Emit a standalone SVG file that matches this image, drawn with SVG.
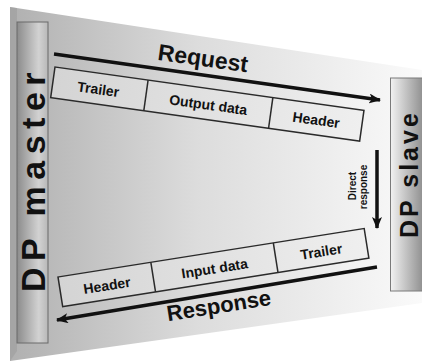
<svg xmlns="http://www.w3.org/2000/svg" width="422" height="361" viewBox="0 0 422 361">
<defs>
<linearGradient id="panelG" x1="0" y1="0" x2="1" y2="0">
<stop offset="0" stop-color="#b0b0b0"/>
<stop offset="0.45" stop-color="#dcdcdc"/>
<stop offset="1" stop-color="#fafafa"/>
</linearGradient>
<linearGradient id="masterG" x1="0" y1="0" x2="1" y2="0">
<stop offset="0" stop-color="#8c8c8c"/>
<stop offset="0.7" stop-color="#d2d2d2"/>
<stop offset="1" stop-color="#b8b8b8"/>
</linearGradient>
<linearGradient id="slaveG" x1="0" y1="0" x2="1" y2="0">
<stop offset="0" stop-color="#f2f2f2"/>
<stop offset="1" stop-color="#8e8e8e"/>
</linearGradient>
<linearGradient id="boxG" x1="0" y1="0" x2="1" y2="0">
<stop offset="0" stop-color="#d4d4d4"/>
<stop offset="1" stop-color="#efefef"/>
</linearGradient>
<marker id="ah" viewBox="0 0 12 10" refX="11" refY="5" markerWidth="12" markerHeight="10" markerUnits="userSpaceOnUse" orient="auto">
<path d="M0,0 L12,5 L0,10 L3,5 Z" fill="#111"/>
</marker>
</defs>
<style>
text{font-family:"Liberation Sans",Arial,sans-serif;font-weight:bold;fill:#111}
.cell{fill:url(#boxG);stroke:#2a2a2a;stroke-width:1.5}
.div{stroke:#2a2a2a;stroke-width:1.5}
.lbl{font-size:14px;text-anchor:middle}
.big{font-size:22px;text-anchor:middle}
.arr{stroke:#111;stroke-width:3.5;fill:none}
</style>
<g id="panel">
<polygon points="10,7 422,70 422,303 10,361" fill="url(#panelG)"/>
<polygon points="10,7 17,8 17,351 10,361" fill="#9a9a9a" opacity="0.5"/>
</g>
<g id="dp-master">
<rect x="17" y="22" width="31" height="321" fill="url(#masterG)" stroke="#6a6a6a" stroke-width="1"/>
<text transform="translate(45,292) rotate(-90)" style="font-size:34px;letter-spacing:6.5px">DP master</text>
</g>
<g id="dp-slave">
<rect x="390.5" y="78" width="33" height="213" fill="url(#slaveG)" stroke="#7a7a7a" stroke-width="1"/>
<text transform="translate(418,238) rotate(-90)" style="font-size:25px;letter-spacing:3px">DP slave</text>
</g>
<g id="request-frame" transform="translate(55,67) rotate(8)">
<rect class="cell" x="0" y="0" width="312" height="31"/>
<line class="div" x1="94" y1="0" x2="94" y2="31"/>
<line class="div" x1="220" y1="0" x2="220" y2="31"/>
<text class="lbl" x="46" y="21">Trailer</text>
<text class="lbl" x="157" y="21">Output data</text>
<text class="lbl" x="266" y="21">Header</text>
</g>
<g id="response-frame" transform="translate(58,277) rotate(-9)">
<rect class="cell" x="0" y="0" width="310" height="30"/>
<line class="div" x1="94" y1="0" x2="94" y2="30"/>
<line class="div" x1="218" y1="0" x2="218" y2="30"/>
<text class="lbl" x="47" y="21">Header</text>
<text class="lbl" x="156" y="21">Input data</text>
<text class="lbl" x="264" y="21">Trailer</text>
</g>
<g id="connectors">
<line class="arr" x1="54" y1="54" x2="380" y2="100" marker-end="url(#ah)"/>
<line class="arr" x1="377" y1="267" x2="57" y2="320" marker-end="url(#ah)"/>
<line class="arr" x1="377" y1="150" x2="377" y2="228" marker-end="url(#ah)"/>
</g>
<g id="labels">
<text class="big" transform="translate(202,66) rotate(8)" style="font-size:23px">Request</text>
<text class="big" transform="translate(220,313) rotate(-9)">Response</text>
<text transform="translate(356,186) rotate(-90)" style="font-size:10px;text-anchor:middle">Direct</text>
<text transform="translate(367,187) rotate(-90)" style="font-size:10px;text-anchor:middle">response</text>
</g>
</svg>
